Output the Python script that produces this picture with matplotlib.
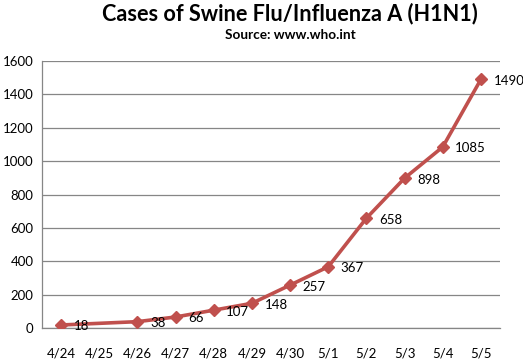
import numpy as np
import matplotlib
matplotlib.use("Agg")
import matplotlib.pyplot as plt

# WHO case counts; 4/25 has no reported value
dates = ["4/24", "4/25", "4/26", "4/27", "4/28", "4/29", "4/30", "5/1", "5/2", "5/3", "5/4", "5/5"]
cases = [18, None, 38, 66, 107, 148, 257, 367, 658, 898, 1085, 1490]

line_color = "#C0504D"
grid_color = "#868686"

plt.rcParams["font.family"] = ["Lato", "DejaVu Sans"]

fig = plt.figure(figsize=(5.23, 3.6), dpi=100)
ax = fig.add_axes([42 / 523, 32 / 360, 458 / 523, 267 / 360])

x_all = np.arange(len(dates))
valid = [i for i, v in enumerate(cases) if v is not None]
xs = x_all[valid]
ys = np.array([cases[i] for i in valid], dtype=float)

ax.plot(xs, ys, color=line_color, linewidth=2.6, marker="D", markersize=6.5,
        markerfacecolor=line_color, markeredgecolor=line_color, zorder=3)

for x, y in zip(xs, ys):
    ax.annotate(f"{int(y)}", (x, y), xytext=(9, -1), textcoords="offset points",
                ha="left", va="center", fontsize=9.5, color="black")

ax.set_xlim(-0.5, len(dates) - 0.5)
ax.set_ylim(0, 1600)
ax.set_yticks(np.arange(0, 1601, 200))
ax.set_xticks(x_all)
ax.set_xticklabels(dates)
ax.tick_params(axis="both", length=0, labelsize=9.5, colors="black")
ax.tick_params(axis="x", pad=14)
ax.tick_params(axis="y", pad=6)

ax.grid(axis="y", color=grid_color, linewidth=0.9)
ax.set_axisbelow(True)
for side in ["top", "right"]:
    ax.spines[side].set_visible(False)
for side in ["left", "bottom"]:
    ax.spines[side].set_color(grid_color)
    ax.spines[side].set_linewidth(0.9)

fig.text(290 / 523, 1 - 14 / 360, "Cases of Swine Flu/Influenza A (H1N1)", ha="center", va="center",
         fontsize=15.6, fontweight="bold")
fig.text(290 / 523, 1 - 35 / 360, "Source: www.who.int", ha="center", va="center",
         fontsize=9.8, fontweight="bold")

fig.savefig("out.png", dpi=100)
